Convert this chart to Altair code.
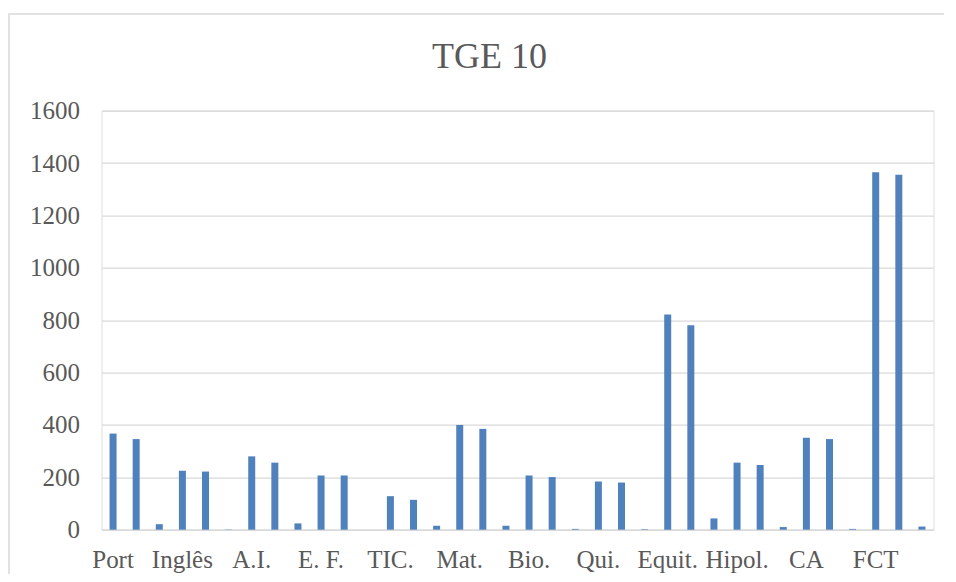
import altair as alt
import pandas as pd

subjects = ["Port", "Inglês", "A.I.", "E. F.", "TIC.", "Mat.", "Bio.", "Qui.",
            "Equit.", "Hipol.", "CA", "FCT"]
serie1 = [367, 225, 280, 207, 128, 400, 207, 184, 822, 256, 351, 1365]
serie2 = [346, 222, 256, 207, 114, 385, 201, 180, 781, 247, 346, 1355]
serie3 = [21, 1, 24, 0, 15, 15, 3, 2, 43, 10, 3, 12]
y_ticks = [0, 200, 400, 600, 800, 1000, 1200, 1400, 1600]

rows = []
for s, a, b, c in zip(subjects, serie1, serie2, serie3):
    for k, v in enumerate([a, b, c]):
        rows.append({"key": f"{s}#{k}", "valor": v})
df = pd.DataFrame(rows)
order = list(df["key"])

FONT = "Liberation Serif"
TXT = "#595959"
GRID = "#d9d9d9"

bars = alt.Chart(df).mark_bar(size=7, color="#4f81bd").encode(
    x=alt.X("key:N", sort=order,
            scale=alt.Scale(paddingInner=0, paddingOuter=0),
            axis=alt.Axis(title=None, labelAngle=0, ticks=False, tickSize=0,
                          labelExpr="split(datum.label, '#')[1] == '0' ? split(datum.label, '#')[0] : ''",
                          labelFont=FONT, labelFontSize=25, labelColor=TXT,
                          labelBaseline="alphabetic", labelPadding=38,
                          domainColor=GRID, labelOverlap=False)),
    y=alt.Y("valor:Q", scale=alt.Scale(domain=[0, 1600], nice=False),
            axis=alt.Axis(title=None, values=y_ticks, ticks=False, tickSize=0,
                          format="d",
                          domain=False, gridColor=GRID, gridWidth=1.3,
                          labelFont=FONT, labelFontSize=25, labelColor=TXT,
                          labelPadding=22)),
)

frame = alt.Chart(alt.Data(values=[{"f": 1}])).mark_rect(
    fill=None, stroke=GRID, strokeWidth=1.5
).encode(
    x=alt.value(-92.5), x2=alt.value(870),
    y=alt.value(-96.7), y2=alt.value(500),
)

chart = alt.layer(frame, bars).properties(
    width=832, height=419,
    title=alt.TitleParams("TGE 10", font=FONT, fontSize=36, color=TXT,
                          fontWeight="normal", anchor="middle", dx=-28,
                          baseline="alphabetic", offset=-91),
    autosize=alt.AutoSizeParams(type="none"),
    padding={"left": 93.5, "top": 102.7, "right": 10, "bottom": 44},
).configure_view(stroke=None).configure(background="white")

chart.save("out.html", embed_options={"renderer": "svg", "actions": False})
